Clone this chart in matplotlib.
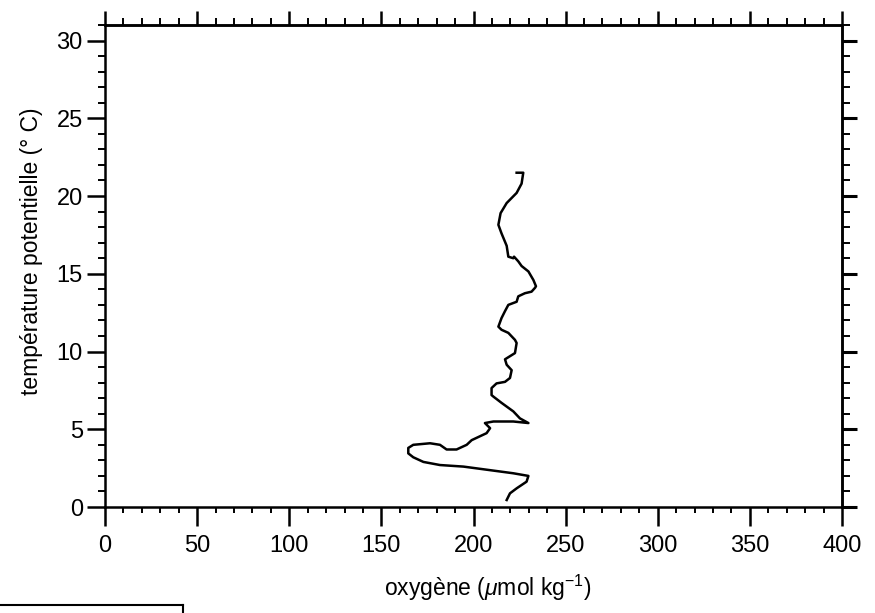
import matplotlib
matplotlib.use("Agg")
import matplotlib.pyplot as plt
from matplotlib.ticker import MultipleLocator
from matplotlib.lines import Line2D

plt.rcParams['font.family'] = ['Liberation Sans', 'DejaVu Sans']
plt.rcParams['mathtext.fontset'] = 'custom'
plt.rcParams['mathtext.rm'] = 'Liberation Sans'
plt.rcParams['mathtext.it'] = 'Liberation Sans:italic'

# oxygen (umol/kg) vs potential temperature (deg C), traced from the profile
oxygen = [223.4, 227.0, 226.1, 223.4, 218.0, 214.7, 213.5, 215.2, 218.0, 218.9,
          221.6, 222.0, 224.3, 226.1, 229.8, 232.5, 233.9, 233.4, 231.5, 227.9,
          224.3, 223.4, 218.9, 217.1, 215.2, 213.5, 215.2, 218.9, 222.5, 223.4,
          222.5, 219.8, 217.1, 218.0, 220.7, 219.8, 217.1, 212.5, 209.8, 209.8,
          210.8, 215.2, 221.6, 225.2, 229.8, 221.6, 210.8, 206.2, 209.0, 207.1,
          202.6, 199.0, 196.3, 190.8, 185.4, 181.8, 176.4, 167.3, 164.6, 164.6,
          167.3, 172.8, 181.8, 194.5, 207.1, 221.6, 229.8, 228.8, 223.4, 219.8,
          218.0]
theta = [21.5, 21.5, 20.8, 20.2, 19.55, 18.9, 18.15, 17.6, 16.8, 16.1,
         16.0, 16.1, 15.8, 15.5, 15.15, 14.6, 14.2, 14.1, 13.85, 13.75,
         13.55, 13.2, 13.0, 12.6, 12.15, 11.6, 11.4, 11.2, 10.75, 10.55,
         9.9, 9.7, 9.5, 9.15, 8.8, 8.3, 8.05, 7.95, 7.65, 7.2,
         7.1, 6.7, 6.15, 5.7, 5.4, 5.5, 5.5, 5.4, 5.07, 4.75,
         4.5, 4.3, 4.0, 3.7, 3.7, 4.0, 4.1, 4.0, 3.8, 3.45,
         3.2, 2.9, 2.7, 2.6, 2.4, 2.17, 2.0, 1.63, 1.2, 0.88,
         0.45]

xticks = [0, 50, 100, 150, 200, 250, 300, 350, 400]
yticks = [0, 5, 10, 15, 20, 25, 30]

fig = plt.figure(figsize=(8.75, 6.13), dpi=100)
ax = fig.add_axes([0.12, 0.1729, 0.8423, 0.7863])

ax.plot(oxygen, theta, color='black', lw=1.8, solid_joinstyle='round')

ax.set_xlim(0, 400)
ax.set_ylim(0, 31)
ax.set_xticks(xticks)
ax.set_yticks(yticks)
ax.xaxis.set_minor_locator(MultipleLocator(10))
ax.yaxis.set_minor_locator(MultipleLocator(1))

for s in ax.spines.values():
    s.set_linewidth(1.8)

ax.tick_params(axis='x', which='major', direction='out', length=14, width=1.8,
               labelsize=17, pad=6, top=False)
ax.tick_params(axis='x', which='minor', direction='out', length=4, width=1.4, top=False)
ax.tick_params(axis='y', which='major', direction='out', length=13, width=1.8,
               labelsize=17, pad=3, right=False)
ax.tick_params(axis='y', which='minor', direction='out', length=5, width=1.4, right=False)

secx = ax.secondary_xaxis('top')
secx.set_xticks(xticks)
secx.xaxis.set_minor_locator(MultipleLocator(10))
secx.tick_params(which='major', direction='out', length=10, width=1.8, labeltop=False)
secx.tick_params(which='minor', direction='out', length=5, width=1.4)
secx.spines['top'].set_linewidth(1.8)

secy = ax.secondary_yaxis('right')
secy.set_yticks(yticks)
secy.yaxis.set_minor_locator(MultipleLocator(1))
secy.tick_params(which='major', direction='out', length=11, width=2.2, labelright=False)
secy.tick_params(which='minor', direction='out', length=5.5, width=1.4)
secy.spines['right'].set_linewidth(1.8)

ax.set_xlabel(r'oxygène ($\mu$mol kg$^{\mathregular{-1}}$)', fontsize=16.5)
ax.xaxis.set_label_coords(0.52, -0.137)
ax.set_ylabel('température potentielle (° C)', fontsize=16.5)
ax.yaxis.set_label_coords(-0.084, 0.531)

# fragment of a box at the bottom-left corner of the page
fig.add_artist(Line2D([0, 183 / 875], [1 - 605 / 613, 1 - 605 / 613],
                      transform=fig.transFigure, color='black', lw=1.5))
fig.add_artist(Line2D([183 / 875, 183 / 875], [1 - 605 / 613, 0],
                      transform=fig.transFigure, color='black', lw=1.5))

fig.savefig('out.png', dpi=100)
